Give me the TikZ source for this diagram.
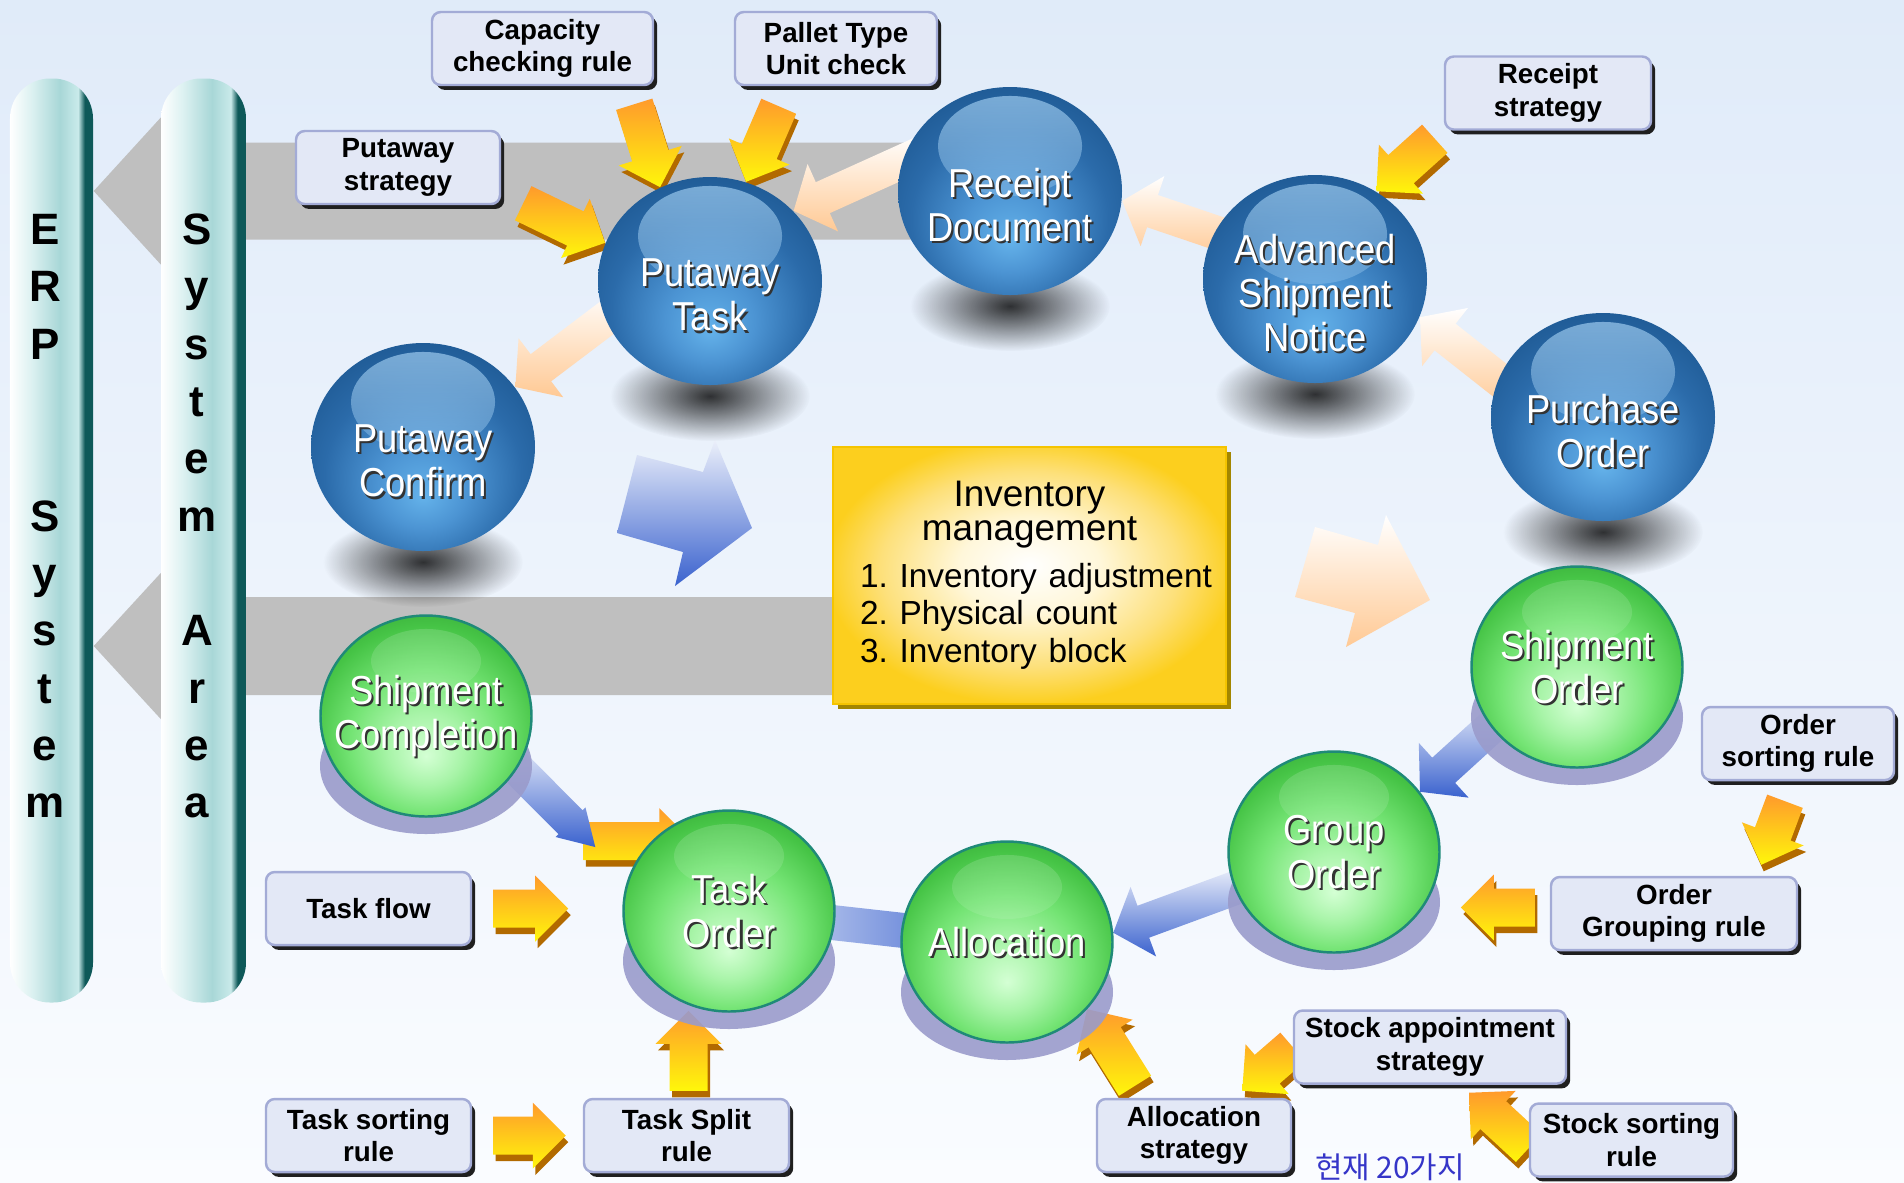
\documentclass[tikz,border=0pt]{standalone}
\usepackage{fontspec}
\setmainfont{Liberation Sans}
\newfontfamily\ballfont{Liberation Sans}[FakeStretch=0.9]
\newfontfamily\krfont{Noto Sans CJK KR}
\usetikzlibrary{calc,positioning,shapes.geometric,shadows,fadings}

\definecolor{bgtop}{HTML}{E0EBF9}
\definecolor{bgbot}{HTML}{FAFCFF}
\definecolor{band}{HTML}{BFBFBF}
\definecolor{boxfill}{HTML}{E3E8F6}
\definecolor{boxline}{HTML}{A3ABD6}
\definecolor{ruletop}{HTML}{FF9A2C}
\definecolor{rulebot}{HTML}{FFF70A}
\definecolor{ruleside}{HTML}{B26A00}
\definecolor{peach}{HTML}{FFC994}
\definecolor{flowblue}{HTML}{3A62CE}
\definecolor{lav}{HTML}{9A9BCB}
\definecolor{invgold}{HTML}{FCCF1E}
\definecolor{invmid}{HTML}{FDE07A}
\definecolor{invlight}{HTML}{FFF7DA}
\definecolor{invedge}{HTML}{F5C400}
\definecolor{invshadow}{HTML}{A38600}
\definecolor{kblue}{HTML}{3535C8}
\definecolor{bbA}{HTML}{64B2EA}
\definecolor{bbB}{HTML}{4C94D3}
\definecolor{bbC}{HTML}{2B6BAA}
\definecolor{bbD}{HTML}{1D5892}
\definecolor{bbHi}{HTML}{A3D0F3}
\definecolor{ggA}{HTML}{D4FFD4}
\definecolor{ggB}{HTML}{A8F4A8}
\definecolor{ggC}{HTML}{74E474}
\definecolor{ggD}{HTML}{46C446}
\definecolor{ggE}{HTML}{34A534}
\definecolor{ggline}{HTML}{1F8A78}
\definecolor{pillA}{HTML}{DCF1F1}
\definecolor{pillB}{HTML}{A8D7D7}
\definecolor{pillC}{HTML}{C9EAEA}
\definecolor{pillD}{HTML}{0E5959}

\pgfdeclareradialshading{blueball}{\pgfpoint{0bp}{-12bp}}{color(0bp)=(bbA); color(10bp)=(bbB); color(22bp)=(bbC); color(32bp)=(bbD); color(50bp)=(bbD)}
\pgfdeclareradialshading{greenball}{\pgfpoint{0bp}{-10bp}}{color(0bp)=(ggA); color(9bp)=(ggB); color(18bp)=(ggC); color(27bp)=(ggD); color(34bp)=(ggE); color(50bp)=(ggE)}
\pgfdeclareradialshading{invshade}{\pgfpoint{0bp}{2bp}}{color(0bp)=(white); color(9bp)=(invlight); color(19bp)=(invmid); color(26bp)=(invgold); color(50bp)=(invgold)}
\pgfdeclarehorizontalshading{pillshade}{100bp}{color(0bp)=(white); color(25bp)=(white); color(38bp)=(pillA); color(55bp)=(pillB); color(66bp)=(pillC); color(70bp)=(pillD); color(100bp)=(pillD)}

\tikzfading[name=fuzzy, inner color=transparent!0, outer color=transparent!100]
\tikzfading[name=fadedown, top color=transparent!0, bottom color=transparent!100]

\pgfdeclarelayer{backlayer}
\pgfdeclarelayer{flowlayer}
\pgfdeclarelayer{shadowlayer}
\pgfsetlayers{backlayer,flowlayer,shadowlayer,main}

\newcommand\blockarrow[6][]{%
  \coordinate (ba-q) at ($(#3)!#6!(#2)$);
  \path[#1] ($(#2)!#4!90:(#3)$) -- ($(ba-q)!#4!-90:(#2)$) -- ($(ba-q)!#5!-90:(#2)$)
    -- (#3.center) -- ($(ba-q)!#5!90:(#2)$) -- ($(ba-q)!#4!90:(#2)$) -- ($(#2)!#4!-90:(#3)$) -- cycle;}
\newcommand\flowarrow[3][]{%
  \coordinate (fa-t) at (#3);
  \coordinate (fa-s) at ($(#2)!-0.3cm!(fa-t)$);
  \blockarrow[#1]{fa-s}{fa-t}{0.17cm}{0.37cm}{0.32cm}}
\newcommand\rulearrow[2]{%
  \coordinate (ra-s) at (#1);
  \coordinate (ra-t) at (#2);
  \blockarrow[fill=ruleside, transform canvas={shift={(0.025,-0.065)}}]{ra-s}{ra-t}{0.19cm}{0.33cm}{0.33cm}
  \blockarrow[top color=ruletop, bottom color=rulebot]{ra-s}{ra-t}{0.19cm}{0.33cm}{0.33cm}}

\tikzset{
  rulebox/.style={draw=boxline, fill=boxfill, line width=0.7pt, rounded corners=2.5pt, align=center,
    font=\fontsize{7.9}{9.3}\selectfont\bfseries, minimum height=0.73cm, inner sep=1pt,
    drop shadow={shadow xshift=1.2pt, shadow yshift=-1.4pt, fill=black!88, opacity=1}},
  ballback/.style={text=black!80, font=\ballfont\fontsize{11.5}{12.6}\selectfont, align=center, inner sep=0pt},
  balltext/.style={ballback, text=white},
  bluesphere/.style={ellipse, inner sep=0pt, minimum width=2.24cm, minimum height=2.08cm, shade, shading=blueball,
    path picture={\fill[bbHi, path fading=fadedown, fill opacity=0.7] ([yshift=0.45cm]path picture bounding box.center) ellipse (0.72 and 0.5);},
    label={[ballback, xshift=0.6pt, yshift=-4.6pt]center:#1}, label={[balltext, yshift=-4pt]center:#1}},
  greensphere/.style={ellipse, inner sep=0pt, minimum width=2.11cm, minimum height=2.01cm, shade, shading=greenball,
    draw=ggline, line width=0.7pt,
    path picture={\fill[white, path fading=fadedown, fill opacity=0.16] ([yshift=0.55cm]path picture bounding box.center) ellipse (0.55 and 0.32);},
    label={[ballback, xshift=0.6pt, yshift=-0.6pt]center:#1}, label={[balltext]center:#1}},
  pill/.style={rectangle, rounded corners=0.4cm, minimum height=9.24cm, shade, shading=pillshade},
  pilltext/.style={font=\fontsize{12.5}{16.3}\selectfont\bfseries, align=center},
  invbox/.style={rectangle, shade, shading=invshade, draw=invedge, line width=0.8pt, minimum height=2.57cm,
    text width=3.63cm, inner xsep=0.15cm, align=left,
    drop shadow={shadow xshift=1.3pt, shadow yshift=-1.3pt, fill=invshadow, opacity=1}},
  peacharrow/.style={top color=white, bottom color=peach},
  bluearrow/.style={top color=white!95!flowblue, bottom color=flowblue}
}

\begin{document}
\begin{tikzpicture}
\useasboundingbox (0,0) rectangle (19.04,-11.82);

\node[pill, minimum width=0.83cm] (erp) at (0.515,-5.405) {};
\node[pill, minimum width=0.85cm] (sys) at (2.035,-5.405) {};
\node[pilltext] (erp-t) at (0.45,-5.16) {E\\R\\P\\[32.6pt]S\\y\\s\\t\\e\\m};
\node[pilltext] (sys-t) at (1.97,-5.16) {S\\y\\s\\t\\e\\m\\[16.3pt]A\\r\\e\\a};

\node[rulebox, minimum width=2.21cm] (cap) at (5.425,-0.485) {Capacity\\checking rule};
\node[rulebox, minimum width=2.02cm] (pal) at (8.36,-0.485) {Pallet Type\\Unit check};
\node[rulebox, minimum width=2.04cm] (pst) at (3.98,-1.675) {Putaway\\strategy};
\node[rulebox, minimum width=2.06cm] (rst) at (15.48,-0.93) {Receipt\\strategy};
\node[rulebox, minimum width=1.92cm] (osr) at (17.98,-7.435) {Order\\sorting rule};
\node[rulebox, minimum width=2.46cm] (ogr) at (16.74,-9.135) {Order\\Grouping rule};
\node[rulebox, minimum width=2.05cm] (tfl) at (3.685,-9.085) {Task flow};
\node[rulebox, minimum width=2.05cm] (tsr) at (3.685,-11.355) {Task sorting\\rule};
\node[rulebox, minimum width=2.05cm] (tsp) at (6.865,-11.355) {Task Split\\rule};
\node[rulebox, minimum width=1.94cm] (alst) at (11.94,-11.355) {Allocation\\strategy};
\node[rulebox, minimum width=2.72cm] (sap) at (14.30,-10.47) {Stock appointment\\strategy};
\node[rulebox, minimum width=2.03cm] (ssr) at (16.315,-11.40) {Stock sorting\\rule};

\node[invbox] (inv) at (10.295,-5.755) {\frenchspacing{\centering\fontsize{10.5}{9.6}\selectfont Inventory\\management\par}\vspace{2.5pt}{\fontsize{9.5}{10.8}\selectfont\leftskip=0.12cm \mbox{1. Inventory adjustment}\\\mbox{2. Physical count}\\\mbox{3. Inventory block}\par}};

\node[bluesphere={Receipt\\Document}] (rd) at (10.10,-1.91) {};
\node[bluesphere={Putaway\\Task}] (pt) at (7.10,-2.81) {};
\node[bluesphere={Advanced\\Shipment\\Notice}] (asn) at (13.15,-2.79) {};
\node[bluesphere={Purchase\\Order}] (po) at (16.03,-4.17) {};
\node[bluesphere={Putaway\\Confirm}] (pc) at (4.23,-4.47) {};
\node[greensphere={Shipment\\Order}] (so) at (15.77,-6.67) {};
\node[greensphere={Shipment\\Completion}] (sc) at (4.26,-7.16) {};
\node[greensphere={Group\\Order}] (go) at (13.34,-8.52) {};
\node[greensphere={Task\\Order}] (to) at (7.29,-9.11) {};
\node[greensphere={Allocation}] (al) at (10.07,-9.42) {};

\node[text=kblue, font=\krfont\fontsize{8.5}{10}\selectfont, anchor=base] (note) at (13.90,-11.78) {현재 20가지};

\begin{pgfonlayer}{backlayer}
\shade[top color=bgtop, bottom color=bgbot] (0,0) rectangle (19.04,-11.82);
\coordinate (erp-a) at (erp.east |- rd);
\blockarrow[fill=band]{rd}{erp-a}{0.485cm}{0.745cm}{0.68cm}
\coordinate (b2) at (8.6,-6.46);
\coordinate (erp-b) at (erp.east |- b2);
\blockarrow[fill=band]{b2}{erp-b}{0.49cm}{0.74cm}{0.68cm}
\shade[top color=white!90!flowblue, bottom color=flowblue] (6.17,-5.33) -- (6.37,-4.55) -- (7.03,-4.72) -- (7.15,-4.40) -- (7.52,-5.28) -- (6.75,-5.86) -- (6.83,-5.52) -- cycle;
\shade[top color=white, bottom color=peach] (12.95,-5.97) -- (13.15,-5.27) -- (13.78,-5.45) -- (13.86,-5.15) -- (14.30,-6.00) -- (13.46,-6.47) -- (13.55,-6.13) -- cycle;
\end{pgfonlayer}

\begin{pgfonlayer}{flowlayer}
\rulearrow{$(cap.south east)+(-0.2,-0.18)$}{pt.118}
\rulearrow{$(pal.south west)+(0.45,-0.2)$}{pt.70}
\rulearrow{$(pst.south east)+(0.22,0.02)$}{pt.160}
\rulearrow{$(rst.south west)+(-0.09,-0.08)$}{asn.55}
\rulearrow{$(osr.south)+(-0.13,-0.2)$}{$(ogr.north east)+(-0.37,0.11)$}
\rulearrow{$(ogr.west)+(-0.15,0.06)$}{$(ogr.west)+(-0.89,0.06)$}
\rulearrow{$(tfl.east)+(0.21,0)$}{$(tfl.east)+(0.96,0)$}
\rulearrow{$(tsr.east)+(0.21,0)$}{$(tsp.west)+(-0.17,0)$}
\rulearrow{$(tsp.north)+(0.02,0.07)$}{$(tsp.north)+(0.02,0.87)$}
\rulearrow{$(alst.north)+(-0.59,0.12)$}{al.320}
\rulearrow{sap.west}{$(alst.north east)+(-0.5,0.07)$}
\rulearrow{$(ssr.west)+(0,-0.08)$}{$(sap.south)+(0.39,-0.08)$}
\rulearrow{$(to.west)+(-0.39,0.7)$}{$(to.west)+(0.7,0.7)$}
\flowarrow[peacharrow]{asn.155}{rd.355}
\flowarrow[peacharrow]{po.160}{asn.340}
\flowarrow[peacharrow]{rd.165}{pt.40}
\flowarrow[peacharrow]{pt.200}{pc.33}
\flowarrow[bluearrow]{so.215}{go.35}
\flowarrow[bluearrow]{go.200}{al.5}
\blockarrow[left color=white!85!flowblue, right color=flowblue]{to}{al}{0.175cm}{0.175cm}{0.3cm}
\coordinate (sc-tip) at ($(to.west)+(-0.27,0.64)$);
\coordinate (sc-s) at ($(sc.330)!-0.3cm!(sc-tip)$);
\blockarrow[bluearrow]{sc-s}{sc-tip}{0.17cm}{0.21cm}{0.35cm}
\end{pgfonlayer}

\begin{pgfonlayer}{shadowlayer}
\foreach \n in {rd,pt,asn,po,pc}
  \fill[black, path fading=fuzzy, fill opacity=0.8] ([yshift=-1.15cm]\n.center) ellipse (1.0 and 0.45);
\foreach \n in {so,sc,go,to,al}
  \fill[lav, fill opacity=0.9] ([yshift=-0.5cm]\n.center) ellipse (1.06 and 0.68);
\end{pgfonlayer}
\end{tikzpicture}
\end{document}
